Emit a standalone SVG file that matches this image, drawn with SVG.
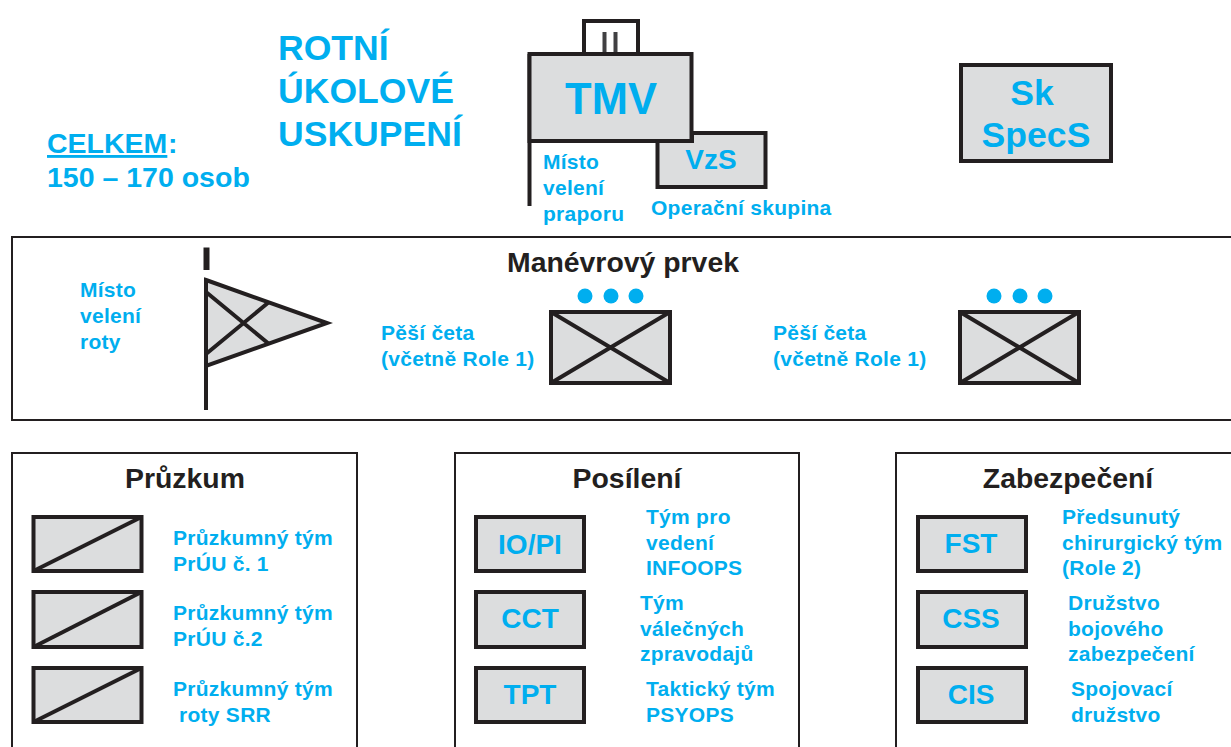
<svg xmlns="http://www.w3.org/2000/svg" width="1231" height="747" viewBox="0 0 1231 747">
<style>
text{font-family:"Liberation Sans",Arial,sans-serif;font-weight:700;fill:#00aeef}
.t20{font-size:21px;letter-spacing:.27px}
.t28{font-size:28px}
.t28b{font-size:28.5px}
.t34{font-size:35.6px}
.h{font-size:28.4px;fill:#231f20}
.m{text-anchor:middle}
.fr{fill:none;stroke:#231f20;stroke-width:2}
.bx{fill:#dcddde;stroke:#231f20;stroke-width:4}
.ln{fill:none;stroke:#231f20;stroke-width:4}
.dot{fill:#00aeef;stroke:none}
</style>
<rect width="1231" height="747" fill="#fff"/>
<g id="title">
<text class="t34" x="278" y="60">ROTNÍ</text>
<text class="t34" x="278" y="103">ÚKOLOVÉ</text>
<text class="t34" x="278" y="146">USKUPENÍ</text>
</g>
<g id="celkem">
<text class="t28b" x="47" y="153" text-decoration="underline">CELKEM</text><text class="t28b" x="168" y="153">:</text>
<text class="t28b" x="47" y="187">150 – 170 osob</text>
</g>
<g id="tmv">
<rect class="ln" x="584" y="21" width="54" height="33" fill="#fff"/>
<path d="M604.5 32V54M615.5 32V54" fill="none" stroke="#414042" stroke-width="4"/>
<path class="ln" d="M529.5 54V206"/>
<rect class="bx" x="529.5" y="54" width="162" height="87"/>
<text class="m" x="611" y="114" font-size="43.5">TMV</text>
</g>
<g id="vzs">
<path class="bx" d="M692 133H765.500V187H657.500V141H692Z"/>
<text class="m t28" x="711" y="169">VzS</text>
</g>
<g id="tmv-labels">
<text class="t20" x="543" y="169">Místo</text>
<text class="t20" x="543" y="195">velení</text>
<text class="t20" x="543" y="221">praporu</text>
<text class="t20" x="651" y="215">Operační skupina</text>
</g>
<g id="sks">
<rect class="bx" x="961" y="65" width="150" height="96"/>
<text class="m t34" x="1032" y="105">Sk</text>
<text class="m t34" x="1036" y="147">SpecS</text>
</g>
<g id="manevr">
<path class="fr" d="M1231 237H12V420H1231"/>
<text class="m h" x="623" y="272">Manévrový prvek</text>
</g>
<g id="cp-rota">
<text class="t20" x="80" y="297">Místo</text>
<text class="t20" x="80" y="323">velení</text>
<text class="t20" x="80" y="349">roty</text>
<path d="M206.500 247.500V270" fill="none" stroke="#231f20" stroke-width="6"/>
<path class="bx" d="M206 280L327 323L206 366Z"/>
<path class="ln" d="M206 280V410M206 292L269 344M206 354L269 302"/>
</g>
<g id="ceta1">
<text class="t20" x="381" y="340">Pěší četa</text>
<text class="t20" x="381" y="366">(včetně Role 1)</text>
<circle class="dot" cx="585" cy="296" r="7.5"/><circle class="dot" cx="611" cy="296" r="7.5"/><circle class="dot" cx="636" cy="296" r="7.5"/>
<rect class="bx" x="551" y="312" width="119" height="71"/>
<path class="ln" d="M551 312L670 383M670 312L551 383"/>
</g>
<g id="ceta2">
<text class="t20" x="773" y="340">Pěší četa</text>
<text class="t20" x="773" y="366">(včetně Role 1)</text>
<circle class="dot" cx="994" cy="296" r="7.5"/><circle class="dot" cx="1020" cy="296" r="7.5"/><circle class="dot" cx="1045" cy="296" r="7.5"/>
<rect class="bx" x="960" y="312" width="119" height="71"/>
<path class="ln" d="M960 312L1079 383M1079 312L960 383"/>
</g>
<g id="pruzkum">
<path class="fr" d="M12 747V453H357V747"/>
<text class="m h" x="185" y="488">Průzkum</text>
<rect class="bx" x="33.500" y="517" width="108" height="54"/><path class="ln" d="M33.500 571L141.500 517"/>
<rect class="bx" x="33.500" y="592" width="108" height="55"/><path class="ln" d="M33.500 647L141.500 592"/>
<rect class="bx" x="33.500" y="668" width="108" height="54"/><path class="ln" d="M33.500 722L141.500 668"/>
<text class="t20" x="173" y="545">Průzkumný tým</text><text class="t20" x="173" y="571">PrÚU č. 1</text>
<text class="t20" x="173" y="620">Průzkumný tým</text><text class="t20" x="173" y="646">PrÚU č.2</text>
<text class="t20" x="173" y="696">Průzkumný tým</text><text class="t20" x="179" y="722">roty SRR</text>
</g>
<g id="posileni">
<path class="fr" d="M455 747V453H799V747"/>
<text class="m h" x="627" y="488">Posílení</text>
<rect class="bx" x="476" y="517" width="108" height="54"/><text class="m t28" x="530" y="554">IO/PI</text>
<rect class="bx" x="476" y="592" width="108" height="55"/><text class="m t28" x="530" y="628">CCT</text>
<rect class="bx" x="476" y="668" width="108" height="54"/><text class="m t28" x="530" y="704">TPT</text>
<text class="t20" x="646" y="524">Tým pro</text><text class="t20" x="646" y="550">vedení</text><text class="t20" x="646" y="575">INFOOPS</text>
<text class="t20" x="640" y="610">Tým</text><text class="t20" x="640" y="636">válečných</text><text class="t20" x="640" y="661">zpravodajů</text>
<text class="t20" x="646" y="696">Taktický tým</text><text class="t20" x="646" y="722">PSYOPS</text>
</g>
<g id="zabezpeceni">
<path class="fr" d="M896 747V453H1231"/>
<text class="m h" x="1068" y="488">Zabezpečení</text>
<rect class="bx" x="918" y="517" width="108" height="54"/><text class="m t28" x="971" y="553">FST</text>
<rect class="bx" x="918" y="592" width="108" height="55"/><text class="m t28" x="971" y="628">CSS</text>
<rect class="bx" x="918" y="668" width="108" height="54"/><text class="m t28" x="971" y="704">CIS</text>
<text class="t20" x="1062" y="524">Předsunutý</text><text class="t20" x="1062" y="550">chirurgický tým</text><text class="t20" x="1062" y="575">(Role 2)</text>
<text class="t20" x="1068" y="610">Družstvo</text><text class="t20" x="1068" y="636">bojového</text><text class="t20" x="1068" y="661">zabezpečení</text>
<text class="t20" x="1071" y="696">Spojovací</text><text class="t20" x="1071" y="722">družstvo</text>
</g>
</svg>
